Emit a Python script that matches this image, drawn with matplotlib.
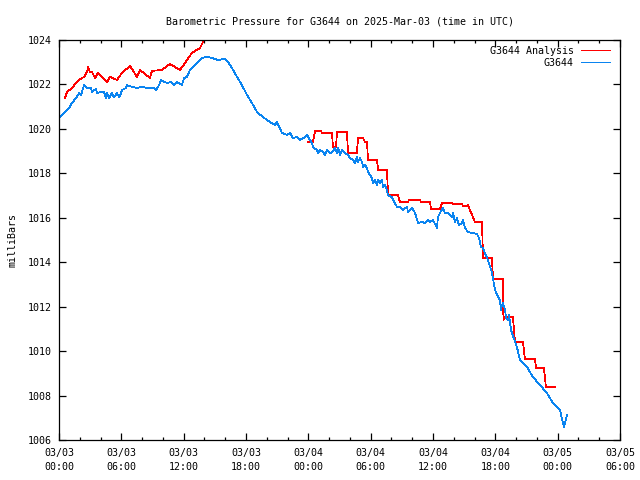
import numpy as np
import matplotlib
matplotlib.use("Agg")
import matplotlib.pyplot as plt
from matplotlib.lines import Line2D

# ============================================================
# DATA  (hours since 2025-03-03 00:00 UTC, pressure in mbar)
# ============================================================

obs_hours = [0.00, 0.29, 0.48, 0.96, 1.25, 1.64, 1.93, 2.12, 2.41, 2.70,
             3.08, 3.18, 3.56, 3.66, 4.04, 4.33, 4.52, 4.62, 4.81, 5.10,
             5.29, 5.58, 5.78, 5.97, 6.06, 6.45, 6.55, 7.03, 7.51, 7.99,
             8.47, 9.14, 9.34, 9.63, 9.82, 10.11, 10.40, 10.78, 11.07, 11.36,
             11.84, 12.03, 12.32, 12.61, 13.09, 13.76, 14.25, 14.73, 15.30, 15.98,
             16.27, 16.65, 17.13, 17.61, 18.10, 18.58, 19.06, 19.64, 20.31, 20.79,
             20.98, 21.46, 21.95, 22.24, 22.52, 22.91, 23.20, 23.68, 23.87, 24.16,
             24.35, 24.45, 24.83, 24.93, 25.12, 25.41, 25.60, 25.80, 26.09, 26.28,
             26.57, 26.76, 26.86, 27.05, 27.24, 27.53, 27.82, 28.01, 28.30, 28.49,
             28.68, 28.78, 28.97, 29.17, 29.26, 29.45, 29.65, 29.74, 29.94, 30.13,
             30.22, 30.42, 30.61, 30.71, 30.90, 31.09, 31.19, 31.38, 31.57, 31.67,
             32.05, 32.15, 32.53, 32.82, 33.11, 33.50, 33.59, 33.98, 34.27, 34.56,
             34.94, 35.23, 35.52, 35.71, 36.00, 36.38, 36.48, 36.67, 36.96, 37.15,
             37.44, 37.83, 37.93, 38.12, 38.31, 38.50, 38.79, 38.89, 39.08, 39.37,
             39.85, 40.24, 40.43, 40.62, 40.81, 41.00, 41.29, 41.68, 41.97, 42.26,
             42.45, 42.54, 42.64, 42.74, 42.93, 43.03, 43.22, 43.32, 43.51, 43.60,
             44.08, 44.37, 45.05, 45.62, 46.30, 46.97, 47.55, 48.22, 48.51, 48.61,
             48.90]
obs_mbar = [1020.49, 1020.63, 1020.71, 1020.94, 1021.16, 1021.39, 1021.61, 1021.52, 1021.97, 1021.84,
            1021.84, 1021.66, 1021.80, 1021.61, 1021.66, 1021.66, 1021.39, 1021.61, 1021.39, 1021.61,
            1021.43, 1021.61, 1021.43, 1021.61, 1021.75, 1021.84, 1021.97, 1021.89, 1021.84, 1021.89,
            1021.84, 1021.84, 1021.75, 1021.97, 1022.20, 1022.11, 1022.07, 1022.11, 1021.97, 1022.11,
            1021.97, 1022.29, 1022.34, 1022.65, 1022.88, 1023.19, 1023.24, 1023.19, 1023.10, 1023.15,
            1023.01, 1022.74, 1022.34, 1021.97, 1021.52, 1021.16, 1020.76, 1020.53, 1020.31, 1020.18,
            1020.31, 1019.82, 1019.73, 1019.82, 1019.59, 1019.63, 1019.50, 1019.63, 1019.73, 1019.50,
            1019.37, 1019.18, 1019.05, 1018.91, 1019.05, 1018.96, 1018.83, 1019.05, 1018.91, 1018.96,
            1019.14, 1018.91, 1019.14, 1018.83, 1019.05, 1018.91, 1018.83, 1018.69, 1018.60, 1018.47,
            1018.74, 1018.51, 1018.69, 1018.51, 1018.29, 1018.38, 1018.24, 1018.06, 1017.93, 1017.79,
            1017.56, 1017.70, 1017.47, 1017.70, 1017.56, 1017.70, 1017.38, 1017.47, 1017.25, 1017.02,
            1016.93, 1016.80, 1016.49, 1016.49, 1016.35, 1016.49, 1016.26, 1016.44, 1016.22, 1015.76,
            1015.81, 1015.76, 1015.90, 1015.81, 1015.90, 1015.54, 1016.03, 1016.22, 1016.44, 1016.22,
            1016.22, 1016.03, 1016.22, 1015.81, 1015.99, 1015.67, 1015.76, 1015.90, 1015.54, 1015.36,
            1015.31, 1015.27, 1015.09, 1014.68, 1014.64, 1014.42, 1014.10, 1013.52, 1012.75, 1012.44,
            1012.30, 1011.85, 1012.07, 1012.16, 1011.85, 1011.49, 1011.40, 1011.62, 1010.95, 1010.81,
            1010.18, 1009.60, 1009.29, 1008.83, 1008.48, 1008.11, 1007.66, 1007.35, 1006.76, 1006.58,
            1007.12]

ana1_hours = [0.58, 0.77, 1.25, 1.64, 1.93, 2.41, 2.70, 2.79, 2.98, 3.18,
              3.47, 3.75, 4.62, 4.91, 5.58, 6.06, 6.83, 7.51, 7.80, 8.76,
              8.95, 9.91, 10.68, 11.65, 12.13, 12.80, 13.57, 13.86, 14.15]
ana1_mbar = [1021.39, 1021.66, 1021.84, 1022.07, 1022.20, 1022.34, 1022.56, 1022.78, 1022.56, 1022.56,
             1022.29, 1022.52, 1022.11, 1022.34, 1022.20, 1022.52, 1022.83, 1022.34, 1022.65, 1022.29,
             1022.61, 1022.65, 1022.92, 1022.65, 1022.97, 1023.42, 1023.64, 1023.91, 1024.18]

ana2_hours = [23.97, 24.45, 24.64, 25.22, 25.32, 26.28, 26.37, 26.66, 26.76, 27.72,
              27.82, 28.68, 28.78, 29.26, 29.45, 29.65, 29.74, 30.61, 30.71, 31.57,
              31.67, 32.63, 32.82, 33.59, 33.69, 34.75, 34.84, 35.71, 35.81, 36.67,
              36.87, 37.83, 37.92, 38.79, 38.89, 39.27, 39.37, 39.56, 39.85, 40.04,
              40.72, 40.81, 41.68, 41.77, 42.74, 42.78, 42.83, 43.70, 43.89, 44.66,
              44.85, 45.82, 45.91, 46.68, 46.87, 47.74]
ana2_mbar = [1019.41, 1019.41, 1019.90, 1019.90, 1019.81, 1019.81, 1019.18, 1019.18, 1019.86, 1019.86,
             1018.91, 1018.91, 1019.59, 1019.59, 1019.41, 1019.41, 1018.60, 1018.60, 1018.15, 1018.15,
             1017.02, 1017.02, 1016.71, 1016.71, 1016.80, 1016.80, 1016.71, 1016.71, 1016.39, 1016.39,
             1016.66, 1016.66, 1016.62, 1016.62, 1016.53, 1016.53, 1016.57, 1016.35, 1016.03, 1015.81,
             1015.81, 1014.19, 1014.19, 1013.24, 1013.24, 1011.40, 1011.53, 1011.53, 1010.41, 1010.41,
             1009.64, 1009.64, 1009.24, 1009.24, 1008.38, 1008.38]

xtick_labels = ["03/03\n00:00", "03/03\n06:00", "03/03\n12:00", "03/03\n18:00",
                "03/04\n00:00", "03/04\n06:00", "03/04\n12:00", "03/04\n18:00",
                "03/05\n00:00", "03/05\n06:00"]

RED = "#ff0000"
BLUE = "#0a84f0"
LW = 0.55  # thin enough to come out as a single pixel without antialiasing

# ============================================================
# FIGURE
# ============================================================

plt.rcParams["font.family"] = "DejaVu Sans Mono"
plt.rcParams["font.size"] = 7.2

fig = plt.figure(figsize=(6.4, 4.8), dpi=100)
ax = fig.add_axes([59 / 640, 40 / 480, 561 / 640, 400 / 480])

ax.plot(ana1_hours, ana1_mbar, color=RED, lw=LW, antialiased=False)
ax.plot(ana2_hours, ana2_mbar, color=RED, lw=LW, antialiased=False)
ax.plot(obs_hours, obs_mbar, color=BLUE, lw=LW, antialiased=False)

ax.set_xlim(0, 54)
ax.set_ylim(1006, 1024)
ax.set_xticks(np.arange(0, 55, 6))
ax.set_xticklabels(xtick_labels, linespacing=1.5)
ax.set_xticks(np.arange(0, 55, 2), minor=True)
ax.set_yticks(np.arange(1006, 1025, 2))

ax.tick_params(which="both", direction="in", top=True, right=True, width=0.9)
ax.tick_params(which="major", length=5)
ax.tick_params(axis="x", which="major", pad=6)
ax.tick_params(axis="y", which="major", pad=5)
ax.tick_params(which="minor", length=2.5)
for s in ax.spines.values():
    s.set_linewidth(0.9)

ax.set_ylabel("milliBars")
ax.yaxis.set_label_coords(-0.074, 0.5)
ax.set_title("Barometric Pressure for G3644 on 2025-Mar-03 (time in UTC)", fontsize=7.2, pad=11)

handles = [Line2D([], [], color=RED, lw=0.72, antialiased=False),
           Line2D([], [], color=BLUE, lw=0.72, antialiased=False)]
ax.legend(handles, ["G3644 Analysis", "G3644"], loc="upper right",
          bbox_to_anchor=(1 - 10 / 561, 1 - 6 / 400),
          frameon=False, markerfirst=False, handlelength=2.9,
          handletextpad=0.7, labelspacing=0.2, borderpad=0, borderaxespad=0)

fig.savefig("out.png", dpi=100)
